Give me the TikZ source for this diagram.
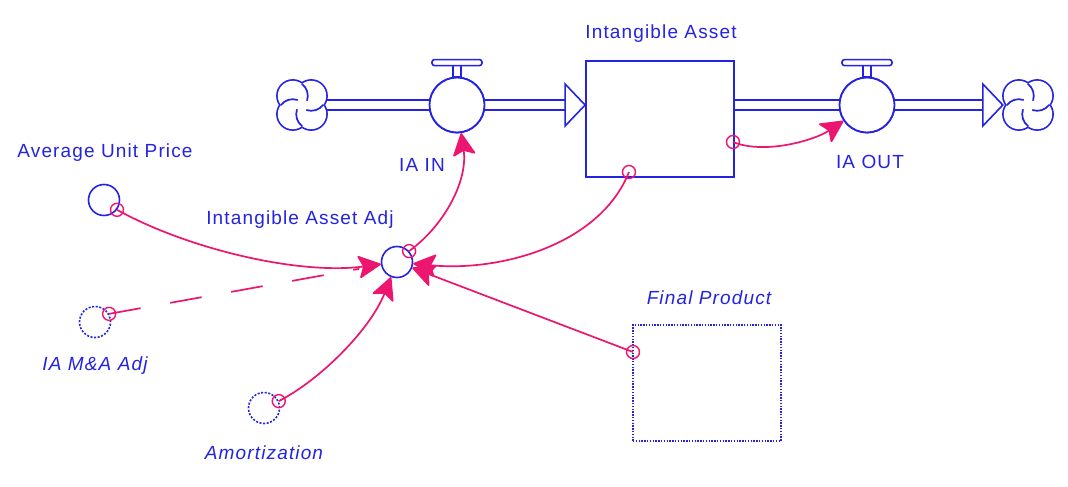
\documentclass[tikz,border=0pt]{standalone}
\usepackage{fontspec}
\setmainfont{Liberation Sans}[LetterSpace=6]
\usetikzlibrary{arrows.meta,calc}
\definecolor{vb}{RGB}{35,35,225}
\definecolor{pk}{RGB}{236,22,112}
\tikzset{
 cloudpic/.pic={
  \foreach \p in {45,135,225,315} \draw[vb,line width=3.4pt] (\p:13) circle (15);
  \foreach \p in {45,135,225,315} \fill[white] (\p:13) circle (15);
  \foreach \p in {45,135,225,315} \draw[vb,line width=1.7pt] (\p:13) ++(\p+82:15) arc[start angle=\p+82, delta angle=72, radius=15];
 },
 lbl/.style={text=vb,font=\fontsize{19}{21}\selectfont,inner sep=0},
 ilbl/.style={text=vb,font=\fontsize{19}{21}\selectfont\itshape,inner sep=0},
 aux/.style={circle,draw=vb,line width=1.6pt,minimum size=31pt,inner sep=0},
 auxd/.style={aux,dash pattern=on 2pt off 1.6pt},
 valve/.style={circle,draw=vb,line width=1.8pt,minimum size=55pt,inner sep=0,fill=white},
 mk/.style={circle,draw=pk,line width=1.4pt,minimum size=13pt,inner sep=0},
 lnk/.style={draw=pk,line width=1.7pt,-{Stealth[length=24pt,width=24pt,inset=5pt,round]}},
 pipe/.style={draw=vb,line width=1.6pt,double=white,double distance=8pt},
 handle/.style={draw=vb,line width=1.6pt,fill=white},
 cloudnode/.style={circle,minimum size=50pt,inner sep=0},
}
\begin{document}
\begin{tikzpicture}[x=1pt,y=-1pt]
\useasboundingbox[fill=white] (0,0) rectangle (1068,487);
% flow structure
\node[cloudnode] (cl) at (302,105) {};
\node[cloudnode] (cr) at (1028,105) {};
\node[draw=vb,line width=1.8pt,minimum width=148pt,minimum height=116pt,inner sep=0] (stock) at (660,119) {};
\node[valve] (vin) at (457,105) {};
\node[valve] (vout) at (867,105) {};
\coordinate (sin) at (stock.west |- vin);
\coordinate (sout) at (stock.east |- vout);
\draw[pipe] (cl) -- (vin);
\draw[pipe] (vin) -- ($(sin)+(-20,0)$);
\draw[vb,line width=1.6pt,fill=white] ($(sin)+(-20,-21)$) -- (sin) -- ($(sin)+(-20,21)$) -- cycle;
\draw[pipe] (sout) -- (vout);
\draw[pipe] (vout) -- ($(cr.west)+(-20,0)$);
\draw[vb,line width=1.6pt,fill=white] ($(cr.west)+(-20,-21)$) -- (cr.west) -- ($(cr.west)+(-20,21)$) -- cycle;
\node[valve] at (vin) {};
\node[valve] at (vout) {};
\pic at (cl) {cloudpic};
\pic at (cr) {cloudpic};
\foreach \v in {vin,vout}{
  \draw[handle] ($(\v.north)+(-4,0)$) rectangle ($(\v.north)+(4,-12)$);
  \draw[handle,rounded corners=2.5pt] ($(\v.north)+(-25,-11)$) rectangle ($(\v.north)+(25,-17)$);
}
% auxiliaries
\node[aux] (aup) at (104,200) {};
\node[aux] (adj) at (397,262) {};
\node[auxd] (mna) at (95,322) {};
\node[auxd] (amo) at (264,408) {};
\node[draw=vb,line width=1.6pt,dash pattern=on 1.4pt off 1.4pt,minimum width=148pt,minimum height=116pt,inner sep=0] (fp) at (707,383) {};
% labels
\node[lbl] (lstock) at (661,34) {Intangible Asset};
\node[lbl] (laup) at (105,153) {Average Unit Price};
\node[lbl] (ladj) at (300,220) {Intangible Asset Adj};
\node[lbl] (lvin) at (422,165) {IA IN};
\node[lbl] (lvout) at (870,162) {IA OUT};
\node[ilbl] (lfp) at (709,298) {Final Product};
\node[ilbl] (lmna) at (95,366) {IA M\&A Adj};
\node[ilbl] (lamo) at (264,453) {Amortization};
% markers
\node[mk] (m1) at (aup.-37) {};
\node[mk] (m2) at (mna.30) {};
\node[mk] (m3) at (amo.25) {};
\node[mk] (m4) at (adj.42) {};
\node[mk] (m5) at (629,172) {};
\node[mk] (m6) at (633,352) {};
\node[mk] (m7) at (733,142) {};
% connectors
\draw[lnk] (m1.center) .. controls (190,250) and (300,275) .. (adj);
\draw[pk,line width=1.7pt,dash pattern=on 32pt off 30pt,shorten >=22pt] (m2.center) -- (adj);
\draw[lnk] (m3.center) .. controls (320,380) and (370,330) .. (adj);
\draw[lnk] (m4.center) .. controls (445,225) and (468,180) .. (vin);
\draw[lnk] (m5.center) .. controls (600,245) and (500,272) .. (adj);
\draw[lnk] (m6.center) -- (adj);
\draw[lnk] (m7.center) .. controls (765,155) and (815,140) .. (vout);
\end{tikzpicture}
\end{document}
